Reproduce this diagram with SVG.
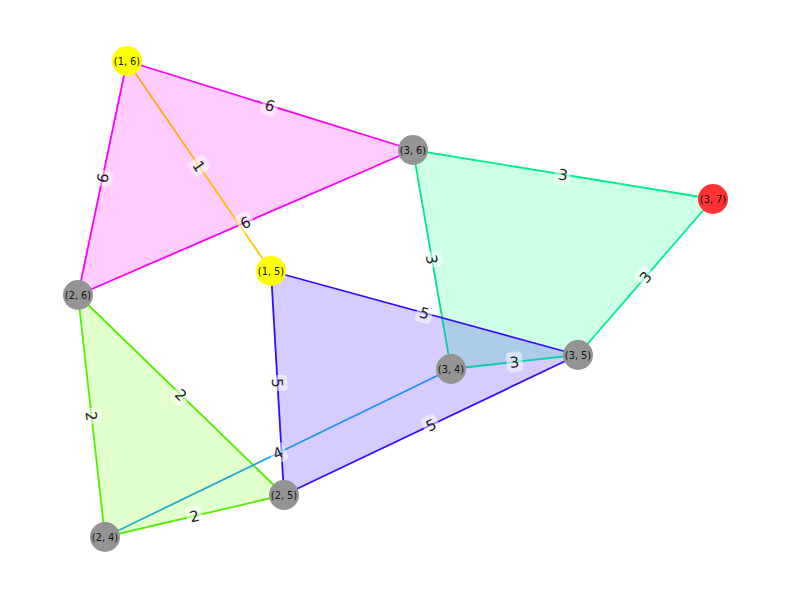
<svg xmlns="http://www.w3.org/2000/svg" width="792" height="599" viewBox="0 0 792 599">
<defs>
<style>
.e{fill:none;stroke-width:1.8}
.lb rect{fill:#fff;fill-opacity:0.5}
.lb text{font-family:"DejaVu Sans",sans-serif;font-size:15px;fill:#222;text-anchor:middle}
.n text{font-family:"DejaVu Sans",sans-serif;font-size:9.8px;fill:#111;text-anchor:middle}
.gray{fill:#949494}
</style>
<linearGradient id="g1" gradientUnits="userSpaceOnUse" x1="127" y1="61" x2="271" y2="271"><stop offset="0" stop-color="#ffa020"/><stop offset="1" stop-color="#ffd000"/></linearGradient>
<linearGradient id="g2" gradientUnits="userSpaceOnUse" x1="413" y1="150" x2="451" y2="369"><stop offset="0" stop-color="#00f08c"/><stop offset="1" stop-color="#10c8a8"/></linearGradient>
<linearGradient id="g3" gradientUnits="userSpaceOnUse" x1="451" y1="369" x2="578" y2="355"><stop offset="0" stop-color="#10c8a8"/><stop offset="1" stop-color="#10d4b4"/></linearGradient>
<linearGradient id="g4" gradientUnits="userSpaceOnUse" x1="105" y1="537" x2="451" y2="369"><stop offset="0" stop-color="#20b8c0"/><stop offset="1" stop-color="#1e88ff"/></linearGradient>
</defs>
<rect width="792" height="599" fill="#fff"/>
<g id="areas">
<polygon points="127,61 413,150 78,295" fill="#ff00ff" fill-opacity="0.2"/>
<polygon points="413,150 713,199 578,355 451,369" fill="#00ff7f" fill-opacity="0.2"/>
<polygon points="271,271 578,355 284,495" fill="#3300ff" fill-opacity="0.2"/>
<polygon points="78,295 284,495 105,537" fill="#66ff00" fill-opacity="0.2"/>
</g>
<g id="connectors">
<line class="e" x1="127" y1="61" x2="413" y2="150" stroke="#ff00ff"/>
<line class="e" x1="127" y1="61" x2="78" y2="295" stroke="#ff00ff"/>
<line class="e" x1="78" y1="295" x2="413" y2="150" stroke="#ff00ff"/>
<line class="e" x1="127" y1="61" x2="271" y2="271" stroke="url(#g1)"/>
<line class="e" x1="413" y1="150" x2="713" y2="199" stroke="#00ee90"/>
<line class="e" x1="713" y1="199" x2="578" y2="355" stroke="#00ee90"/>
<line class="e" x1="413" y1="150" x2="451" y2="369" stroke="url(#g2)"/>
<line class="e" x1="451" y1="369" x2="578" y2="355" stroke="url(#g3)"/>
<line class="e" x1="271" y1="271" x2="578" y2="355" stroke="#3a0cff"/>
<line class="e" x1="271" y1="271" x2="284" y2="495" stroke="#3a0cff"/>
<line class="e" x1="284" y1="495" x2="578" y2="355" stroke="#3a0cff"/>
<line class="e" x1="78" y1="295" x2="284" y2="495" stroke="#55ee00"/>
<line class="e" x1="78" y1="295" x2="105" y2="537" stroke="#55ee00"/>
<line class="e" x1="105" y1="537" x2="284" y2="495" stroke="#55ee00"/>
<line class="e" x1="105" y1="537" x2="451" y2="369" stroke="url(#g4)"/>
</g>
<g id="edge-labels" class="lb">
<g transform="translate(270,105.5) rotate(17.3)"><rect x="-8" y="-10" width="16" height="20" rx="4"/><text y="5.5">6</text></g>
<g transform="translate(102.5,178) rotate(-78.2)"><rect x="-8" y="-10" width="16" height="20" rx="4"/><text y="5.5">6</text></g>
<g transform="translate(245.5,222.5) rotate(-23.4)"><rect x="-8" y="-10" width="16" height="20" rx="4"/><text y="5.5">6</text></g>
<g transform="translate(199,166) rotate(55.6)"><rect x="-8" y="-10" width="16" height="20" rx="4"/><text y="5.5">1</text></g>
<g transform="translate(563,174.5) rotate(9.3)"><rect x="-8" y="-10" width="16" height="20" rx="4"/><text y="5.5">3</text></g>
<g transform="translate(645.5,277) rotate(-49.1)"><rect x="-8" y="-10" width="16" height="20" rx="4"/><text y="5.5">3</text></g>
<g transform="translate(432,259.5) rotate(80.2)"><rect x="-8" y="-10" width="16" height="20" rx="4"/><text y="5.5">3</text></g>
<g transform="translate(514.5,362) rotate(-6.3)"><rect x="-8" y="-10" width="16" height="20" rx="4"/><text y="5.5">3</text></g>
<g transform="translate(424.5,313) rotate(15.3)"><rect x="-8" y="-10" width="16" height="20" rx="4"/><text y="5.5">5</text></g>
<g transform="translate(277.5,383) rotate(86.7)"><rect x="-8" y="-10" width="16" height="20" rx="4"/><text y="5.5">5</text></g>
<g transform="translate(431,425) rotate(-25.5)"><rect x="-8" y="-10" width="16" height="20" rx="4"/><text y="5.5">5</text></g>
<g transform="translate(181,395) rotate(44.2)"><rect x="-8" y="-10" width="16" height="20" rx="4"/><text y="5.5">2</text></g>
<g transform="translate(91.5,416) rotate(83.6)"><rect x="-8" y="-10" width="16" height="20" rx="4"/><text y="5.5">2</text></g>
<g transform="translate(194.5,516) rotate(-13.2)"><rect x="-8" y="-10" width="16" height="20" rx="4"/><text y="5.5">2</text></g>
<g transform="translate(278,453) rotate(-25.9)"><rect x="-8" y="-10" width="16" height="20" rx="4"/><text y="5.5">4</text></g>
</g>
<g id="n16" class="n"><circle cx="127" cy="61" r="15" fill="#ffff00"/><text x="127" y="64.5">(1, 6)</text></g>
<g id="n36" class="n"><circle cx="413" cy="150" r="15" class="gray"/><text x="413" y="153.5">(3, 6)</text></g>
<g id="n37" class="n"><circle cx="713" cy="199" r="15" fill="#ff3333"/><text x="713" y="202.5">(3, 7)</text></g>
<g id="n15" class="n"><circle cx="271" cy="271" r="15" fill="#ffff00"/><text x="271" y="274.5">(1, 5)</text></g>
<g id="n26" class="n"><circle cx="78" cy="295" r="15" class="gray"/><text x="78" y="298.5">(2, 6)</text></g>
<g id="n34" class="n"><circle cx="451" cy="369" r="15" class="gray"/><text x="451" y="372.5">(3, 4)</text></g>
<g id="n35" class="n"><circle cx="578" cy="355" r="15" class="gray"/><text x="578" y="358.5">(3, 5)</text></g>
<g id="n25" class="n"><circle cx="284" cy="495" r="15" class="gray"/><text x="284" y="498.5">(2, 5)</text></g>
<g id="n24" class="n"><circle cx="105" cy="537" r="15" class="gray"/><text x="105" y="540.5">(2, 4)</text></g>
</svg>
